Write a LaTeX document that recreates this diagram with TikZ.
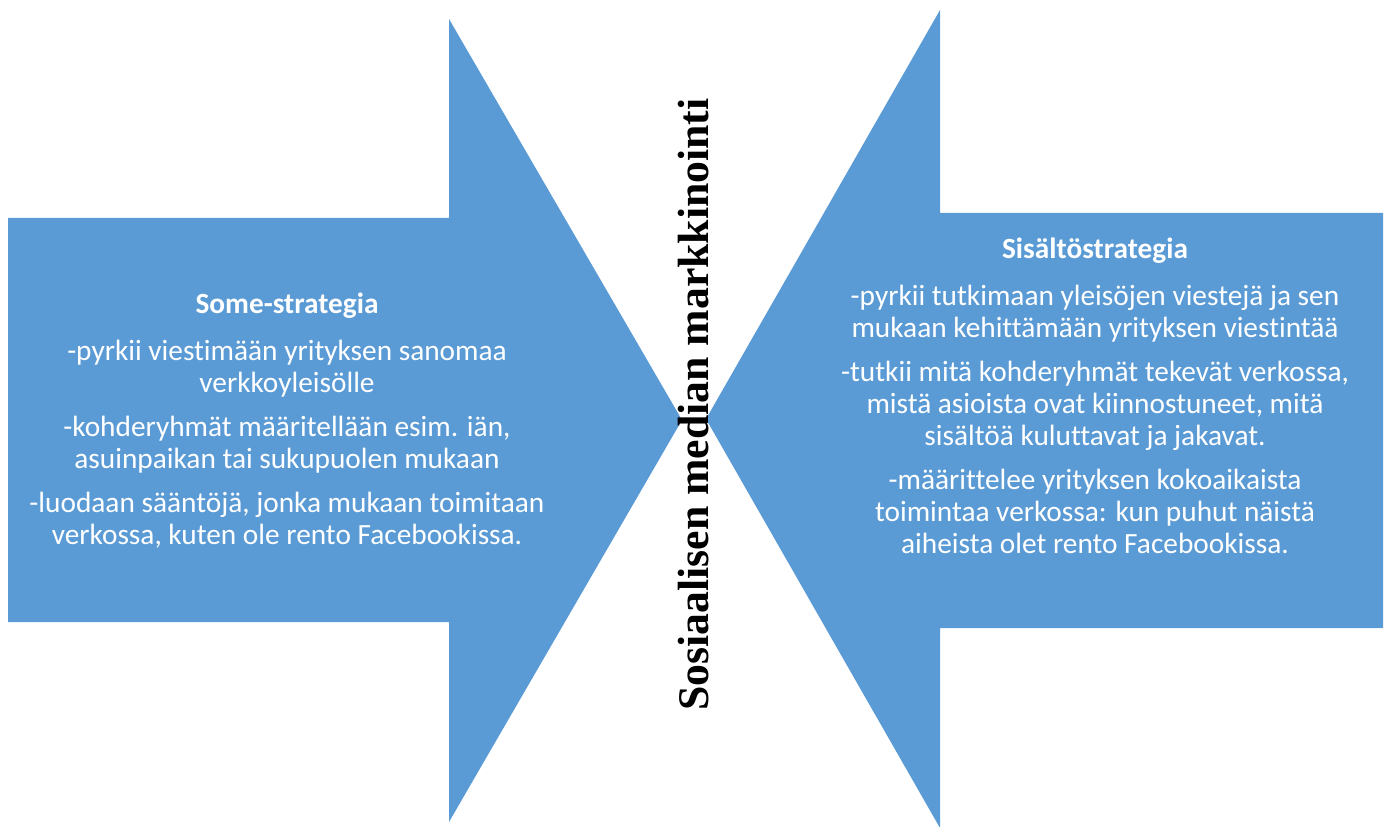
\documentclass[tikz,border=0pt]{standalone}
\usepackage{fontspec}
\setmainfont[Ligatures=NoCommon]{Carlito}
\newfontfamily\tnr{Liberation Serif}
\definecolor{arrowblue}{HTML}{5B9BD5}
\begin{document}
\begin{tikzpicture}[x=0.75pt,y=-0.75pt,
  arrowshape/.style={fill=arrowblue,draw=none},
  blocktext/.style={text=white,align=center,inner sep=0pt,anchor=base,
    font=\fontsize{22}{24}\selectfont},
  titletext/.style={font=\tnr\bfseries\fontsize{32.8}{36}\selectfont,inner sep=0pt,anchor=base,rotate=90}]
\useasboundingbox (0,0) rectangle (1389,827);
% left arrow
\fill[arrowshape] (8,218) -- (449,218) -- (449,19) -- (682,420) -- (449,822) -- (449,622) -- (8,622) -- cycle;
% right arrow
\fill[arrowshape] (1383,213) -- (940,213) -- (940,10) -- (706,419) -- (940,828) -- (940,628) -- (1383,628) -- cycle;
\node[blocktext] (left) at (287,544) {\textbf{Some-strategia}\\[11pt]
-pyrkii viestimään yrityksen sanomaa\\
verkkoyleisölle\\[9pt]
-kohderyhmät määritellään esim. iän,\\
asuinpaikan tai sukupuolen mukaan\\[9pt]
-luodaan sääntöjä, jonka mukaan toimitaan\\
verkossa, kuten ole rento Facebookissa.};
\node[blocktext] (right) at (1095,553) {\textbf{Sisältöstrategia}\\[11pt]
-pyrkii tutkimaan yleisöjen viestejä ja sen\\
mukaan kehittämään yrityksen viestintää\\[9pt]
-tutkii mitä kohderyhmät tekevät verkossa,\\
mistä asioista ovat kiinnostuneet, mitä\\
sisältöä kuluttavat ja jakavat.\\[9pt]
-määrittelee yrityksen kokoaikaista\\
toimintaa verkossa: kun puhut näistä\\
aiheista olet rento Facebookissa.};
\node[titletext] (title) at (708,404.5) {Sosiaalisen median markkinointi};
\end{tikzpicture}
\end{document}
